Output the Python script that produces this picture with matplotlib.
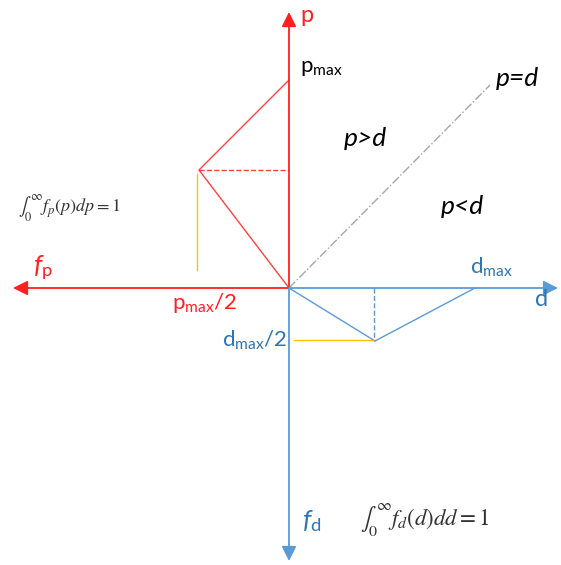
import matplotlib
matplotlib.use('Agg')
import matplotlib.pyplot as plt

# diagram units: d to the right, p upwards, origin where the axes cross
# f_p is drawn to the left of the p axis, f_d below the d axis
p_vals = [0, 118, 208]        # p, with p_max = 208
fp_vals = [0, 90, 0]          # density f_p(p)
d_vals = [0, 86, 186]         # d, with d_max = 186
fd_vals = [0, 53, 0]          # density f_d(d)
diag_end = [201, 203]         # end of the p=d line (d, p)

RED = '#FF2020'
BLUE = '#5B9BD5'
BLUE_TXT = '#2E75B6'
ORANGE = '#FFC000'
GRAY = '#A6A6A6'

plt.rcParams['mathtext.fontset'] = 'custom'
plt.rcParams['mathtext.rm'] = 'Lato'
plt.rcParams['mathtext.it'] = 'Lato:italic'
plt.rcParams['font.family'] = ['Lato', 'DejaVu Sans']

fig = plt.figure(figsize=(5.61, 5.65), dpi=100)
ax = fig.add_axes([0, 0, 1, 1])
ax.set_xlim(-289, 272)
ax.set_ylim(-277, 288)
ax.axis('off')


def arrow(tip, color):
    ax.annotate('', xy=tip, xytext=(0, 0),
                arrowprops=dict(arrowstyle='-|>', color=color, lw=1.3,
                                mutation_scale=22, shrinkA=0, shrinkB=0))


# axes
arrow((0, 276), RED)      # p
arrow((-276, 0), RED)     # f_p
arrow((269, 0), BLUE)     # d
arrow((0, -273), BLUE)    # f_d

# p=d line
ax.plot([0, diag_end[0]], [0, diag_end[1]], color=GRAY, lw=1, ls='-.')

# f_p triangle
ax.plot([-v for v in fp_vals], p_vals, color=RED, lw=1, alpha=0.85)
ax.plot([-fp_vals[1], 0], [p_vals[1], p_vals[1]], color=RED, lw=1, ls='--', alpha=0.85)
ax.plot([-fp_vals[1] - 2, -fp_vals[1] - 2], [18, p_vals[1] - 4], color=ORANGE, lw=1)

# f_d triangle
ax.plot(d_vals, [-v for v in fd_vals], color=BLUE, lw=1)
ax.plot([d_vals[1] - 1, d_vals[1] - 1], [0, -fd_vals[1]], color=BLUE, lw=1, ls='--')
ax.plot([5, d_vals[1] - 2], [-fd_vals[1] + 1, -fd_vals[1] + 1], color=ORANGE, lw=1)

# labels
ax.text(11, 273, 'p', color=RED, fontsize=17, va='center')
ax.text(11, 220, r'$\mathrm{p}_{\mathrm{max}}$', color='black', fontsize=16, va='center')
ax.text(-256, 20, r'$f_{\mathrm{p}}$', color=RED, fontsize=19, va='center')
ax.text(-117, -15, r'$\mathrm{p}_{\mathrm{max}}/2$', color=RED, fontsize=16, va='center')
ax.text(181, 21, r'$\mathrm{d}_{\mathrm{max}}$', color=BLUE_TXT, fontsize=16, va='center')
ax.text(246, -12, 'd', color=BLUE_TXT, fontsize=17, va='center')
ax.text(-67, -52, r'$\mathrm{d}_{\mathrm{max}}/2$', color=BLUE_TXT, fontsize=16, va='center')
ax.text(13, -233, r'$f_{\mathrm{d}}$', color=BLUE_TXT, fontsize=19, va='center')

ax.text(55, 149, 'p>d', fontsize=19, style='italic', va='center')
ax.text(207, 210, 'p=d', fontsize=19, style='italic', va='center')
ax.text(152, 81, 'p<d', fontsize=19, style='italic', va='center')

ax.text(-271, 80, r'$\int_0^{\infty} f_p(p)dp = 1$', color='#333333',
        fontsize=13, va='center', math_fontfamily='stix')
ax.text(71, -232, r'$\int_0^{\infty} f_d(d)dd = 1$', color='#333333',
        fontsize=16.5, va='center', math_fontfamily='stix')

plt.savefig('out.png', dpi=100)
